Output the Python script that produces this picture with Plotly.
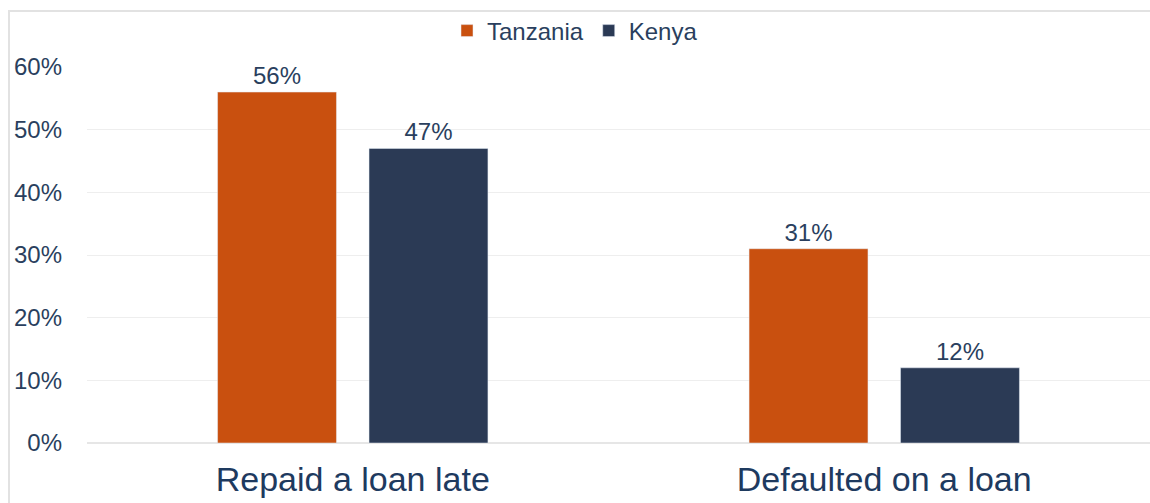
import plotly.graph_objects as go

categories = ["Repaid a loan late", "Defaulted on a loan"]
tanzania = [0.56, 0.31]
kenya = [0.47, 0.12]
y_ticks = [0, 0.1, 0.2, 0.3, 0.4, 0.5, 0.6]

ORANGE = "#C9500F"
NAVY = "#2B3A55"
TEXT = "#2A3F5E"
FONT = "Liberation Sans, Arial, sans-serif"

fig = go.Figure()
for name, vals, color in [("Tanzania", tanzania, ORANGE), ("Kenya", kenya, NAVY)]:
    fig.add_trace(go.Bar(
        name=name, x=categories, y=vals, marker_color=color,
        text=[f"{v:.0%}" for v in vals], textposition="outside",
        textfont=dict(size=24, color=TEXT, family=FONT),
        cliponaxis=False,
    ))

W, H = 1150, 503
ml, mr, mt, mb = 87, 0, 67, 60
pw, ph = W - ml - mr, H - mt - mb

# light frame around the chart
fig.add_shape(
    type="rect", xref="paper", yref="paper",
    x0=(9 - ml) / pw, x1=(W + 5 - ml) / pw,
    y0=-(mb + 5) / ph, y1=(H - mb - 11) / ph,
    line=dict(color="#E2E2E2", width=2), layer="below",
)

fig.update_layout(
    width=W, height=H,
    margin=dict(l=ml, r=mr, t=mt, b=mb),
    paper_bgcolor="white", plot_bgcolor="white",
    barmode="group", bargap=0.43, bargroupgap=0.215,
    font=dict(family=FONT, color=TEXT),
    legend=dict(
        orientation="h", x=(447 - ml) / pw, xanchor="left",
        y=(H - mb - 31) / ph, yanchor="middle",
        font=dict(size=24, color=TEXT, family=FONT),
        itemwidth=30, traceorder="normal",
        bgcolor="rgba(0,0,0,0)",
    ),
    xaxis=dict(
        tickfont=dict(size=34, color="#1E3A5F", family=FONT),
        showline=False, ticks="", ticklabelstandoff=13,
    ),
    yaxis=dict(
        range=[0, 0.6], tickvals=y_ticks, tickformat=".0%",
        tickfont=dict(size=24, color=TEXT, family=FONT),
        gridcolor="#EEEEEE", gridwidth=1, zeroline=True,
        zerolinecolor="#E6E6E6", ticklabelstandoff=24,
    ),
)

fig.write_html("out.html")
